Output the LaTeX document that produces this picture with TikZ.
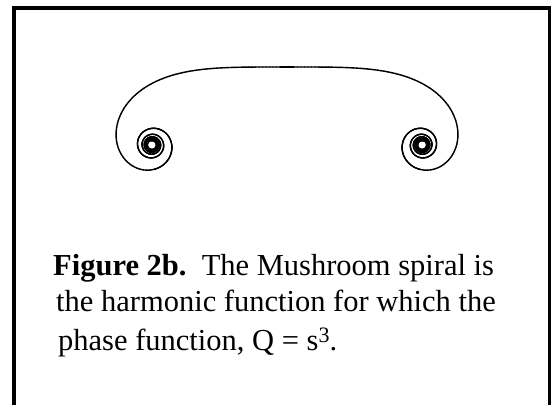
\documentclass[tikz,border=0pt]{standalone}
\usepackage{fontspec}
\setmainfont{Liberation Serif}
\begin{document}
\begin{tikzpicture}[x=1pt,y=-1pt,
  spiral/.style={line width=1.4pt, line cap=round, line join=round},
  frameline/.style={line width=4pt},
  caption/.style={anchor=base west, inner sep=0pt, font=\fontsize{30.5}{37}\selectfont}]
\useasboundingbox (0,0) rectangle (551,404);
\clip (0,0) rectangle (551,404);
\fill[white] (0,0) rectangle (551,404);
% open frame
\draw[frameline] (14,420) -- (14,8) -- (549.5,8) -- (549.5,420);
% mushroom spiral: x = int cos(s^3), y = int sin(s^3)
\gdef\px{0}\gdef\py{0}\gdef\ps{0}
\foreach \i in {1,...,75}{
  \pgfmathsetmacro\s{\i*0.02}
  \pgfmathsetmacro\sm{(\ps+\s)/2}
  \pgfmathsetmacro\th{deg(\sm*\sm*\sm)}
  \pgfmathsetmacro\nx{\px+174.6*(\s-\ps)*cos(\th)}
  \pgfmathsetmacro\ny{\py+174.6*(\s-\ps)*sin(\th)}
  \draw[spiral] (287+\px,67+\py) -- (287+\nx,67+\ny);
  \draw[spiral] (287-\px,67+\py) -- (287-\nx,67+\ny);
  \xdef\px{\nx}\xdef\py{\ny}\xdef\ps{\s}
}
\foreach \i in {1,...,1100}{
  \pgfmathsetmacro\s{1.5+\i*0.002}
  \pgfmathsetmacro\sm{(\ps+\s)/2}
  \pgfmathsetmacro\th{deg(\sm*\sm*\sm)}
  \pgfmathsetmacro\nx{\px+174.6*(\s-\ps)*cos(\th)}
  \pgfmathsetmacro\ny{\py+174.6*(\s-\ps)*sin(\th)}
  \draw[spiral] (287+\px,67+\py) -- (287+\nx,67+\ny);
  \draw[spiral] (287-\px,67+\py) -- (287-\nx,67+\ny);
  \xdef\px{\nx}\xdef\py{\ny}\xdef\ps{\s}
}
% caption
\node[caption] (l1) at (53,275) {\textbf{Figure 2b.}\ \ The Mushroom spiral is};
\node[caption] (l2) at (56,311) {the harmonic function for which the};
\node[caption] (l3) at (58,350) {phase function, Q = s\raisebox{8pt}{\fontsize{22}{22}\selectfont 3}.};
\end{tikzpicture}
\end{document}
